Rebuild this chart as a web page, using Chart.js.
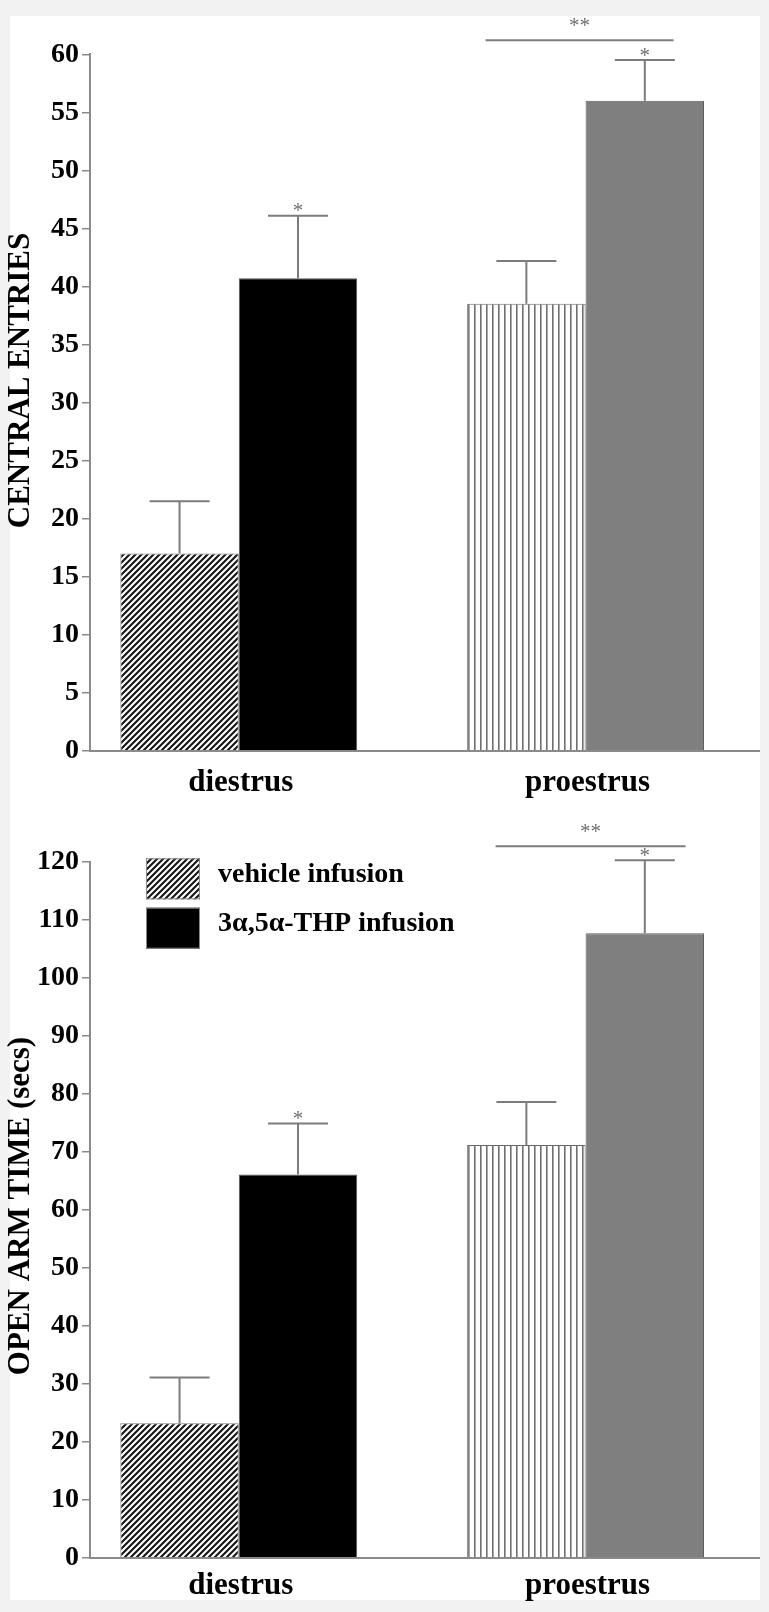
<!DOCTYPE html>
<html>
<head>
<meta charset="utf-8">
<script src="https://cdn.jsdelivr.net/npm/chart.js@4.4.1/dist/chart.umd.min.js"></script>
<style>
  html, body { margin:0; padding:0; background:#f2f2f2; width:769px; height:1612px; overflow:hidden; }
  #card { position:absolute; left:10px; top:16px; width:750px; height:1584px; background:#ffffff; }
  canvas { position:absolute; left:0; }
</style>
</head>
<body>
<div id="card"></div>
<canvas id="c1" width="769" height="800" style="top:0px"></canvas>
<canvas id="c2" width="769" height="812" style="top:800px"></canvas>
<script>
// ---------- DATA ----------
const categories = ['diestrus', 'proestrus'];
const seriesLabels = ['vehicle infusion', '3\u03B1,5\u03B1-THP infusion'];

// Panel A: central entries
const entriesVehicle = [17.0, 38.5];
const entriesVehicleSem = [4.5, 3.7];
const entriesTHP = [40.7, 56.0];
const entriesTHPSem = [5.4, 3.5];
const entriesTicks = [0, 5, 10, 15, 20, 25, 30, 35, 40, 45, 50, 55, 60];
const entriesSigLevel = 61.2;

// Panel B: open arm time (secs)
const openArmVehicle = [23.2, 71.2];
const openArmVehicleSem = [7.9, 7.4];
const openArmTHP = [66.1, 107.7];
const openArmTHPSem = [8.8, 12.6];
const openArmTicks = [0, 10, 20, 30, 40, 50, 60, 70, 80, 90, 100, 110, 120];
const openArmSigLevel = 122.7;

const vehicleStars = ['', ''];
const thpStars = ['*', '*'];
const groupStars = '**';

const yTitles = ['CENTRAL ENTRIES', 'OPEN ARM TIME (secs)'];

// ---------- STYLE HELPERS ----------
const SERIF = "'Liberation Serif', 'Times New Roman', serif";
const AXIS_GRAY = '#8a8a8a';
const ERR_GRAY = '#7c7c7c';

function diagonalPattern(ctx) {
  const c = document.createElement('canvas');
  c.width = 6; c.height = 6;
  const g = c.getContext('2d');
  g.fillStyle = '#ffffff'; g.fillRect(0, 0, 6, 6);
  g.strokeStyle = '#151515'; g.lineWidth = 2.1; g.lineCap = 'square';
  g.beginPath();
  g.moveTo(-1, 7); g.lineTo(7, -1);
  g.moveTo(-1, 1); g.lineTo(1, -1);
  g.moveTo(5, 7); g.lineTo(7, 5);
  g.stroke();
  return ctx.createPattern(c, 'repeat');
}
function verticalPattern(ctx) {
  const c = document.createElement('canvas');
  c.width = 6; c.height = 6;
  const g = c.getContext('2d');
  g.fillStyle = '#ffffff'; g.fillRect(0, 0, 6, 6);
  g.fillStyle = '#6f6f6f'; g.fillRect(0, 0, 1.6, 6);
  return ctx.createPattern(c, 'repeat');
}

// ---------- PLUGINS ----------
const errorBarsPlugin = {
  id: 'errorBars',
  afterDatasetsDraw(chart, args, opts) {
    const ctx = chart.ctx, y = chart.scales.y;
    ctx.save();
    ctx.strokeStyle = ERR_GRAY; ctx.lineWidth = 2;
    ctx.fillStyle = '#6e6e6e';
    ctx.font = '21px ' + SERIF; ctx.textAlign = 'center'; ctx.textBaseline = 'alphabetic';
    chart.data.datasets.forEach((ds, di) => {
      const meta = chart.getDatasetMeta(di);
      meta.data.forEach((bar, i) => {
        const v = ds.data[i].y, e = ds.sem[i];
        const yTop = y.getPixelForValue(v + e);
        ctx.beginPath();
        ctx.moveTo(bar.x, bar.y); ctx.lineTo(bar.x, yTop);
        ctx.moveTo(bar.x - 30, yTop); ctx.lineTo(bar.x + 30, yTop);
        ctx.stroke();
        if (ds.stars && ds.stars[i]) ctx.fillText(ds.stars[i], bar.x, yTop + 1.5);
      });
    });
    // significance bracket over the second group
    const xs = chart.scales.x;
    const cx = xs.getPixelForValue(2);
    const by = y.getPixelForValue(opts.level);
    const x0 = cx + opts.from, x1 = cx + opts.to;
    ctx.beginPath(); ctx.moveTo(x0, by); ctx.lineTo(x1, by); ctx.stroke();
    ctx.fillText(opts.text, (x0 + x1) / 2, by - 8.5);
    ctx.restore();
  }
};

const yTitlePlugin = {
  id: 'yTitle',
  afterDraw(chart, args, opts) {
    const ctx = chart.ctx;
    ctx.save();
    ctx.translate(opts.x, opts.y);
    ctx.rotate(-Math.PI / 2);
    ctx.font = 'bold 31px ' + SERIF;
    ctx.fillStyle = '#000';
    ctx.textAlign = 'center'; ctx.textBaseline = 'middle';
    ctx.fillText(opts.text, 0, 0);
    ctx.restore();
  }
};

const boxLegendPlugin = {
  id: 'boxLegend',
  afterDraw(chart, args, opts) {
    if (!opts.show) return;
    const ctx = chart.ctx;
    ctx.save();
    chart.data.datasets.forEach((ds, i) => {
      const bx = opts.x, by = opts.y + i * opts.rowGap;
      ctx.fillStyle = ds.backgroundColor[0];
      ctx.fillRect(bx, by, opts.w, opts.h);
      ctx.strokeStyle = '#8a8a8a'; ctx.lineWidth = 1;
      ctx.strokeRect(bx + 0.5, by + 0.5, opts.w - 1, opts.h - 1);
      ctx.fillStyle = '#000';
      ctx.font = 'bold 28px ' + SERIF;
      ctx.textAlign = 'left'; ctx.textBaseline = 'alphabetic';
      ctx.fillText(ds.label, opts.textX, by + opts.baseline);
    });
    ctx.restore();
  }
};

// ---------- CHART FACTORY ----------
function makeChart(canvasId, cfg) {
  const canvas = document.getElementById(canvasId);
  const ctx = canvas.getContext('2d');
  const toPts = arr => categories.map((c, i) => ({ x: i + 1, y: arr[i] }));
  return new Chart(ctx, {
    type: 'bar',
    data: {
      datasets: [
        {
          label: seriesLabels[0],
          data: toPts(cfg.vehicle),
          sem: cfg.vehicleSem,
          stars: vehicleStars,
          backgroundColor: [diagonalPattern(ctx), verticalPattern(ctx)],
          borderColor: ['#7a7a7a', '#6a6a6a'],
          borderWidth: 1,
          categoryPercentage: 0.683,
          barPercentage: 1.0
        },
        {
          label: seriesLabels[1],
          data: toPts(cfg.thp),
          sem: cfg.thpSem,
          stars: thpStars,
          backgroundColor: ['#000000', '#7f7f7f'],
          borderColor: ['#5a5a5a', '#5e5e5e'],
          borderWidth: 1,
          categoryPercentage: 0.683,
          barPercentage: 1.0
        }
      ]
    },
    options: {
      responsive: false,
      animation: false,
      devicePixelRatio: 1,
      layout: { padding: { top: cfg.padTop, right: 10, bottom: 0, left: 0 } },
      plugins: {
        legend: { display: false },
        tooltip: { enabled: false },
        errorBars: { level: cfg.sigLevel, from: cfg.sigFrom, to: cfg.sigTo, text: groupStars },
        yTitle: { text: cfg.title, x: 21, y: cfg.titleY },
        boxLegend: cfg.legend
      },
      scales: {
        x: {
          type: 'linear',
          offset: false,
          bounds: 'data',
          min: 0.571, max: 2.5,
          grid: { display: false, drawTicks: false },
          border: { display: true, color: AXIS_GRAY, width: 2 },
          afterBuildTicks: s => { s.ticks = categories.map((c, i) => ({ value: i + 1 })); },
          afterFit: s => { s.height = cfg.xHeight; },
          ticks: {
            autoSkip: false, maxRotation: 0, minRotation: 0,
            padding: cfg.xPad,
            labelOffset: 2,
            color: '#000',
            font: { family: SERIF, size: 31, weight: 'bold' },
            callback: v => categories[v - 1] ?? ''
          }
        },
        y: {
          min: cfg.ticks[0], max: cfg.ticks[cfg.ticks.length - 1],
          afterBuildTicks: s => { s.ticks = cfg.ticks.map(v => ({ value: v })); },
          afterFit: s => { s.width = 90; },
          grid: { drawOnChartArea: false, drawTicks: true, tickLength: 8, color: AXIS_GRAY, lineWidth: 1.5 },
          border: { display: true, color: AXIS_GRAY, width: 2 },
          ticks: {
            padding: 3,
            color: '#000',
            font: { family: SERIF, size: 28, weight: 'bold' }
          }
        }
      }
    },
    plugins: [errorBarsPlugin, yTitlePlugin, boxLegendPlugin]
  });
}

makeChart('c1', {
  vehicle: entriesVehicle, vehicleSem: entriesVehicleSem,
  thp: entriesTHP, thpSem: entriesTHPSem,
  ticks: entriesTicks, sigLevel: entriesSigLevel, sigFrom: -100, sigTo: 88,
  title: yTitles[0], titleY: 380.5,
  padTop: 54.3, xHeight: 49.3, xPad: 13.4,
  legend: { show: false }
});

makeChart('c2', {
  vehicle: openArmVehicle, vehicleSem: openArmVehicleSem,
  thp: openArmTHP, thpSem: openArmTHPSem,
  ticks: openArmTicks, sigLevel: openArmSigLevel, sigFrom: -90, sigTo: 100,
  title: yTitles[1], titleY: 406,
  padTop: 62, xHeight: 54.3, xPad: 9.2,
  legend: { show: true, x: 146, y: 58.3, w: 54, h: 41, rowGap: 49.4, textX: 218, baseline: 23.4 }
});
</script>
</body>
</html>
